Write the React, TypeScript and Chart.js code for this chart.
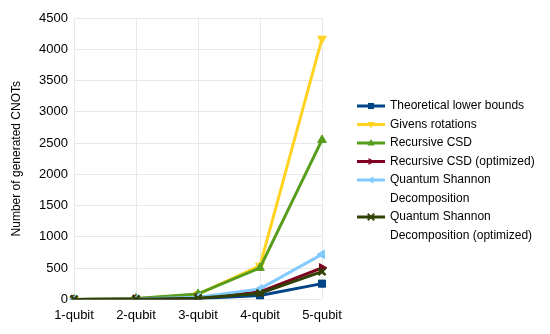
import { useEffect, useRef } from 'react';
import { Chart, registerables } from 'chart.js';

Chart.register(...registerables);

const categories = ['1-qubit', '2-qubit', '3-qubit', '4-qubit', '5-qubit'];

const lowerBounds = [0, 3, 14, 61, 252];
const givensRotations = [0, 10, 80, 540, 4170];
const recursiveCSD = [0, 14, 88, 504, 2550];
const recursiveCSDOpt = [0, 4, 26, 118, 504];
const qsd = [0, 6, 36, 168, 720];
const qsdOpt = [0, 3, 20, 100, 444];

const yTicks = [0, 500, 1000, 1500, 2000, 2500, 3000, 3500, 4000, 4500];

const seriesLabels: string[][] = [
  ['Theoretical lower bounds'],
  ['Givens rotations'],
  ['Recursive CSD'],
  ['Recursive CSD (optimized)'],
  ['Quantum Shannon', 'Decomposition'],
  ['Quantum Shannon', 'Decomposition (optimized)'],
];
const seriesData = [lowerBounds, givensRotations, recursiveCSD, recursiveCSDOpt, qsd, qsdOpt];
const seriesColors = ['#004586', '#ffd320', '#579d1c', '#7e0021', '#83caff', '#314004'];
const seriesPointStyles = ['rect', 'triangle', 'triangle', 'triangle', 'triangle', 'crossRot'];
const seriesRotations = [0, 180, 0, 90, -90, 0];

const FONT = '"Liberation Sans", Arial, sans-serif';

function drawMarker(ctx: CanvasRenderingContext2D, style: string, rotDeg: number, x: number, y: number, r: number) {
  ctx.save();
  ctx.translate(x, y);
  ctx.rotate((rotDeg * Math.PI) / 180);
  ctx.beginPath();
  if (style === 'rect') {
    const s = r * Math.SQRT1_2 * 1.2;
    ctx.rect(-s, -s, 2 * s, 2 * s);
    ctx.fill();
  } else if (style === 'triangle') {
    ctx.moveTo(0, -r * 1.1);
    ctx.lineTo(r, r * 0.7);
    ctx.lineTo(-r, r * 0.7);
    ctx.closePath();
    ctx.fill();
  } else {
    const s = r * 0.9;
    ctx.moveTo(-s, -s);
    ctx.lineTo(s, s);
    ctx.moveTo(s, -s);
    ctx.lineTo(-s, s);
    ctx.lineWidth = 1.8;
    ctx.stroke();
  }
  ctx.restore();
}

const sideLegend = {
  id: 'sideLegend',
  afterDraw(chart: any) {
    const ctx = chart.ctx as CanvasRenderingContext2D;
    ctx.save();
    ctx.font = `12px ${FONT}`;
    ctx.textBaseline = 'middle';
    ctx.textAlign = 'left';
    const lineH = 18.5;
    let y = 106;
    seriesLabels.forEach((lines, i) => {
      const color = seriesColors[i];
      ctx.strokeStyle = color;
      ctx.lineWidth = 3;
      ctx.beginPath();
      ctx.moveTo(357, y);
      ctx.lineTo(385, y);
      ctx.stroke();
      ctx.fillStyle = color;
      ctx.strokeStyle = color;
      drawMarker(ctx, seriesPointStyles[i], seriesRotations[i], 371, y, 3.6);
      ctx.fillStyle = '#000';
      lines.forEach((t, j) => {
        ctx.fillText(t, 390, y + j * lineH);
      });
      y += lines.length * lineH;
    });
    ctx.restore();
  },
};

export default function App() {
  const canvasRef = useRef<HTMLCanvasElement | null>(null);

  useEffect(() => {
    document.body.style.margin = '0';
    const canvas = canvasRef.current;
    if (!canvas) return;
    const chart = new Chart(canvas, {
      type: 'line',
      data: {
        labels: categories,
        datasets: seriesData.map((d, i) => ({
          label: seriesLabels[i].join(' '),
          data: d,
          borderColor: seriesColors[i],
          backgroundColor: seriesColors[i],
          borderWidth: 3,
          pointStyle: seriesPointStyles[i] as any,
          rotation: seriesRotations[i],
          pointRadius: 5,
          pointBorderWidth: seriesPointStyles[i] === 'crossRot' ? 2.5 : 1,
          pointBackgroundColor: seriesColors[i],
          pointBorderColor: seriesColors[i],
          tension: 0,
          order: -i,
        })),
      },
      options: {
        responsive: false,
        animation: false,
        layout: { padding: { left: 0, top: 18, right: 228, bottom: 3 } },
        plugins: {
          legend: { display: false },
          tooltip: { enabled: false },
        },
        scales: {
          x: {
            offset: false,
            grid: { color: '#e8e8e8', drawTicks: false },
            border: { display: false },
            ticks: { color: '#000', font: { family: FONT, size: 13 }, padding: 8, maxRotation: 0 },
          },
          y: {
            min: 0,
            max: 4500,
            afterBuildTicks: (scale: any) => {
              scale.ticks = yTicks.map((v) => ({ value: v }));
            },
            afterFit: (scale: any) => {
              scale.width = 74;
            },
            grid: { color: '#e8e8e8', drawTicks: false },
            border: { display: false },
            ticks: {
              color: '#000',
              font: { family: FONT, size: 13 },
              padding: 6,
              callback: (v: any) => String(v),
            },
            title: {
              display: true,
              text: 'Number of generated CNOTs',
              color: '#000',
              font: { family: FONT, size: 12 },
              padding: { top: 9, bottom: 0 },
            },
          },
        },
      },
      plugins: [sideLegend],
    });
    return () => chart.destroy();
  }, []);

  return (
    <div style={{ width: 550, height: 334 }}>
      <canvas ref={canvasRef} width={550} height={334} style={{ display: 'block' }} />
    </div>
  );
}
